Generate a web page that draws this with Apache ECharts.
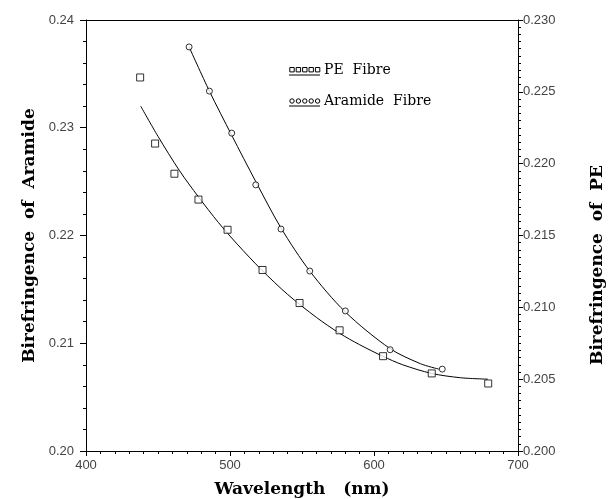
<!DOCTYPE html>
<html>
<head>
<meta charset="utf-8">
<script src="https://cdn.jsdelivr.net/npm/echarts@6/dist/echarts.min.js"></script>
<style>html,body{margin:0;padding:0;background:#fff}#c{width:615px;height:499px}</style>
</head>
<body>
<div id="c"></div>
<script>
// Measured points
var aramideWave = [471.6, 485.7, 501.2, 517.9, 535.4, 555.4, 580.1, 611.2, 647.4];
var aramideValue = [0.2375, 0.2334, 0.2295, 0.2247, 0.2206, 0.2167, 0.2130, 0.2094, 0.2076];
var peWave = [437.6, 448.0, 461.4, 478.1, 498.3, 522.6, 548.3, 576.1, 606.3, 640.1, 679.3];
var peValue = [0.2260, 0.2214, 0.2193, 0.2175, 0.2154, 0.2126, 0.2103, 0.2084, 0.2066, 0.2054, 0.2047];
// Fitted curves
var aramideFitWave = [471.6, 485.7, 501.2, 517.9, 535.4, 555.4, 580.1, 611.2, 632.3, 645.0];
var aramideFitValue = [0.2375, 0.2334, 0.2293, 0.2250, 0.2207, 0.2167, 0.2129, 0.2095, 0.2081, 0.2076];
var peFitWave = [438, 450, 465, 478, 492, 505, 522, 540, 560, 576, 590, 606, 620, 640, 660, 679];
var peFitValue = [0.2240, 0.2219, 0.2195, 0.2177, 0.2159, 0.2144, 0.2126, 0.2109, 0.2093, 0.2082, 0.2074, 0.2066, 0.2060, 0.2054, 0.2051, 0.2050];
// Axis ticks
var xTicks = [400, 500, 600, 700];
var leftTicks = [0.20, 0.21, 0.22, 0.23, 0.24];
var rightTicks = [0.200, 0.205, 0.210, 0.215, 0.220, 0.225, 0.230];

function zip(a, b) { return a.map(function (v, i) { return [v, b[i]]; }); }

var chart = echarts.init(document.getElementById('c'), null, {renderer: 'canvas'});
var labelStyle = {color: '#444', fontFamily: 'Liberation Sans', fontSize: 13};
var nameStyle = {color: '#000', fontFamily: 'DejaVu Serif', fontWeight: 'bold', fontSize: 17};
var lineStyle = {color: '#000', width: 1};

var graphics = [];
function legendRow(y, shape, text) {
  for (var i = 0; i < 5; i++) {
    var cx = 292 + i * 6.4;
    if (shape === 'rect') {
      graphics.push({type: 'rect', shape: {x: cx - 2.2, y: y - 2.5, width: 4.4, height: 4.4}, style: {fill: '#fff', stroke: '#000', lineWidth: 1}});
    } else {
      graphics.push({type: 'circle', shape: {cx: cx, cy: y, r: 2.2}, style: {fill: '#fff', stroke: '#000', lineWidth: 1}});
    }
  }
  graphics.push({type: 'line', shape: {x1: 289, y1: y + 5, x2: 320, y2: y + 5}, style: {stroke: '#000', lineWidth: 1}});
  graphics.push({type: 'text', x: 324, y: y, style: {text: text, fill: '#000', font: '14px "DejaVu Serif"', textVerticalAlign: 'middle'}});
}
legendRow(70, 'rect', 'PE  Fibre');
legendRow(101, 'circle', 'Aramide  Fibre');
graphics.push({type: 'text', x: 598, y: 265, rotation: Math.PI / 2,
  style: {text: 'Birefringence  of  PE', fill: '#000', font: 'bold 17px "DejaVu Serif"', textAlign: 'center', textVerticalAlign: 'middle'}});

chart.setOption({
  animation: false,
  backgroundColor: '#fff',
  grid: {left: 86, right: 97, top: 20, bottom: 48, outerBoundsMode: 'none', containLabel: false},
  graphic: graphics,
  xAxis: [{
    type: 'value', min: xTicks[0], max: xTicks[xTicks.length - 1], interval: 100,
    name: 'Wavelength   (nm)', nameLocation: 'middle', nameGap: 30, nameTextStyle: nameStyle,
    axisLine: {lineStyle: lineStyle}, axisTick: {length: 5, lineStyle: lineStyle},
    minorTick: {show: true, splitNumber: 10, length: 3, lineStyle: lineStyle},
    axisLabel: labelStyle, splitLine: {show: false}
  }, {
    type: 'value', position: 'top', min: 400, max: 700,
    axisLine: {show: true, lineStyle: lineStyle}, axisTick: {show: false}, axisLabel: {show: false}, splitLine: {show: false}
  }],
  yAxis: [{
    type: 'value', position: 'left', min: leftTicks[0], max: leftTicks[leftTicks.length - 1], interval: 0.01,
    name: 'Birefringence  of  Aramide', nameLocation: 'middle', nameGap: 48, nameTextStyle: nameStyle,
    axisLine: {show: true, lineStyle: lineStyle}, axisTick: {length: 6, lineStyle: lineStyle},
    minorTick: {show: true, splitNumber: 5, length: 3, lineStyle: lineStyle},
    axisLabel: Object.assign({formatter: function (v) { return v.toFixed(2); }, margin: 12}, labelStyle),
    splitLine: {show: false}
  }, {
    type: 'value', position: 'right', min: rightTicks[0], max: rightTicks[rightTicks.length - 1], interval: 0.005,
    axisLine: {show: true, lineStyle: lineStyle}, axisTick: {length: 5, lineStyle: lineStyle},
    minorTick: {show: true, splitNumber: 10, length: 3, lineStyle: lineStyle},
    axisLabel: Object.assign({formatter: function (v) { return v.toFixed(3); }, margin: 5}, labelStyle),
    splitLine: {show: false}
  }],
  series: [{
    name: 'Aramide Fibre', type: 'scatter', yAxisIndex: 0, data: zip(aramideWave, aramideValue),
    symbol: 'circle', symbolSize: 6, itemStyle: {color: '#fff', borderColor: '#000', borderWidth: 1}, z: 5
  }, {
    name: 'PE Fibre', type: 'scatter', yAxisIndex: 1, data: zip(peWave, peValue),
    symbol: 'rect', symbolSize: 7, itemStyle: {color: '#fff', borderColor: '#000', borderWidth: 1}, z: 5
  }, {
    name: 'Aramide fit', type: 'line', yAxisIndex: 0, data: zip(aramideFitWave, aramideFitValue),
    smooth: 0.3, showSymbol: false, lineStyle: {color: '#000', width: 1}, z: 3
  }, {
    name: 'PE fit', type: 'line', yAxisIndex: 1, data: zip(peFitWave, peFitValue),
    smooth: 0.3, showSymbol: false, lineStyle: {color: '#000', width: 1}, z: 3
  }]
});
</script>
</body>
</html>
